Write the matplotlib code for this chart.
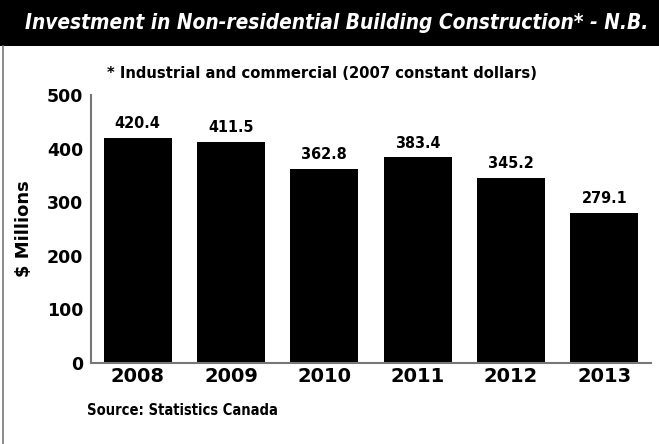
import matplotlib
matplotlib.use("Agg")
import matplotlib.pyplot as plt
from matplotlib.patches import Rectangle
from matplotlib.lines import Line2D

years = ["2008", "2009", "2010", "2011", "2012", "2013"]
values = [420.4, 411.5, 362.8, 383.4, 345.2, 279.1]
yticks = [0, 100, 200, 300, 400, 500]

title = "Investment in Non-residential Building Construction* - N.B."
subtitle = "* Industrial and commercial (2007 constant dollars)"
source = "Source: Statistics Canada"
ylabel = "$ Millions"

W, H = 659, 444
fig = plt.figure(figsize=(W / 100, H / 100), dpi=100)
renderer = fig.canvas.get_renderer()


def fit(t, target_px, horizontal=True):
    bb = t.get_window_extent(renderer=renderer)
    cur = bb.width if horizontal else bb.height
    t.set_fontsize(t.get_fontsize() * target_px / cur)


COND = dict(family="DejaVu Sans", stretch="condensed")

# title bar
fig.patches.append(Rectangle((0, 1 - 46 / H), 1, 46 / H, transform=fig.transFigure,
                             facecolor="black", edgecolor="none", zorder=0))
tt = fig.text(337 / W, 1 - 23 / H, title, color="white", fontsize=16, fontweight="bold",
              fontstyle="italic", ha="center", va="center", **COND)
fit(tt, 624)
# left border
fig.lines.append(Line2D([2.5 / W, 2.5 / W], [0, 1 - 46 / H], transform=fig.transFigure,
                        color="#777777", lw=1.2))

st = fig.text(107 / W, 1 - 73 / H, subtitle, fontsize=13, ha="left", va="center",
              color="black", fontweight="semibold", **COND)
fit(st, 428)
so = fig.text(87 / W, 1 - 410 / H, source, fontsize=11.5, ha="left", va="center",
              color="black", fontweight="semibold", **COND)
fit(so, 190)

ax = fig.add_axes([91 / W, 1 - 363 / H, (651 - 91) / W, (363 - 95) / H])
x = list(range(len(years)))
bars = ax.bar(x, values, width=0.73, color="black")
for xi, v in zip(x, values):
    t = ax.text(xi, v + 13, f"{v:.1f}", ha="center", va="bottom", fontsize=14,
                color="black", fontweight="semibold", **COND)
    fit(t, 46)

ax.set_xlim(-0.5, 5.5)
ax.set_ylim(0, 500)
ax.set_yticks(yticks)
ax.set_yticklabels([str(t) for t in yticks], fontsize=12.5, fontweight="bold")
ax.set_xticks(x)
ax.set_xticklabels(years, fontsize=14, fontweight="bold")
ax.tick_params(axis="both", length=0)
ax.tick_params(axis="y", pad=5.5)
ax.tick_params(axis="x", pad=3)
for s in ["top", "right"]:
    ax.spines[s].set_visible(False)
for s in ["left", "bottom"]:
    ax.spines[s].set_color("#777777")
    ax.spines[s].set_linewidth(1.5)
yl = ax.set_ylabel(ylabel, fontsize=13, fontweight="bold")
ax.yaxis.set_label_coords(-58 / (651 - 91), 0.5)

fig.savefig("out.png", dpi=100)
